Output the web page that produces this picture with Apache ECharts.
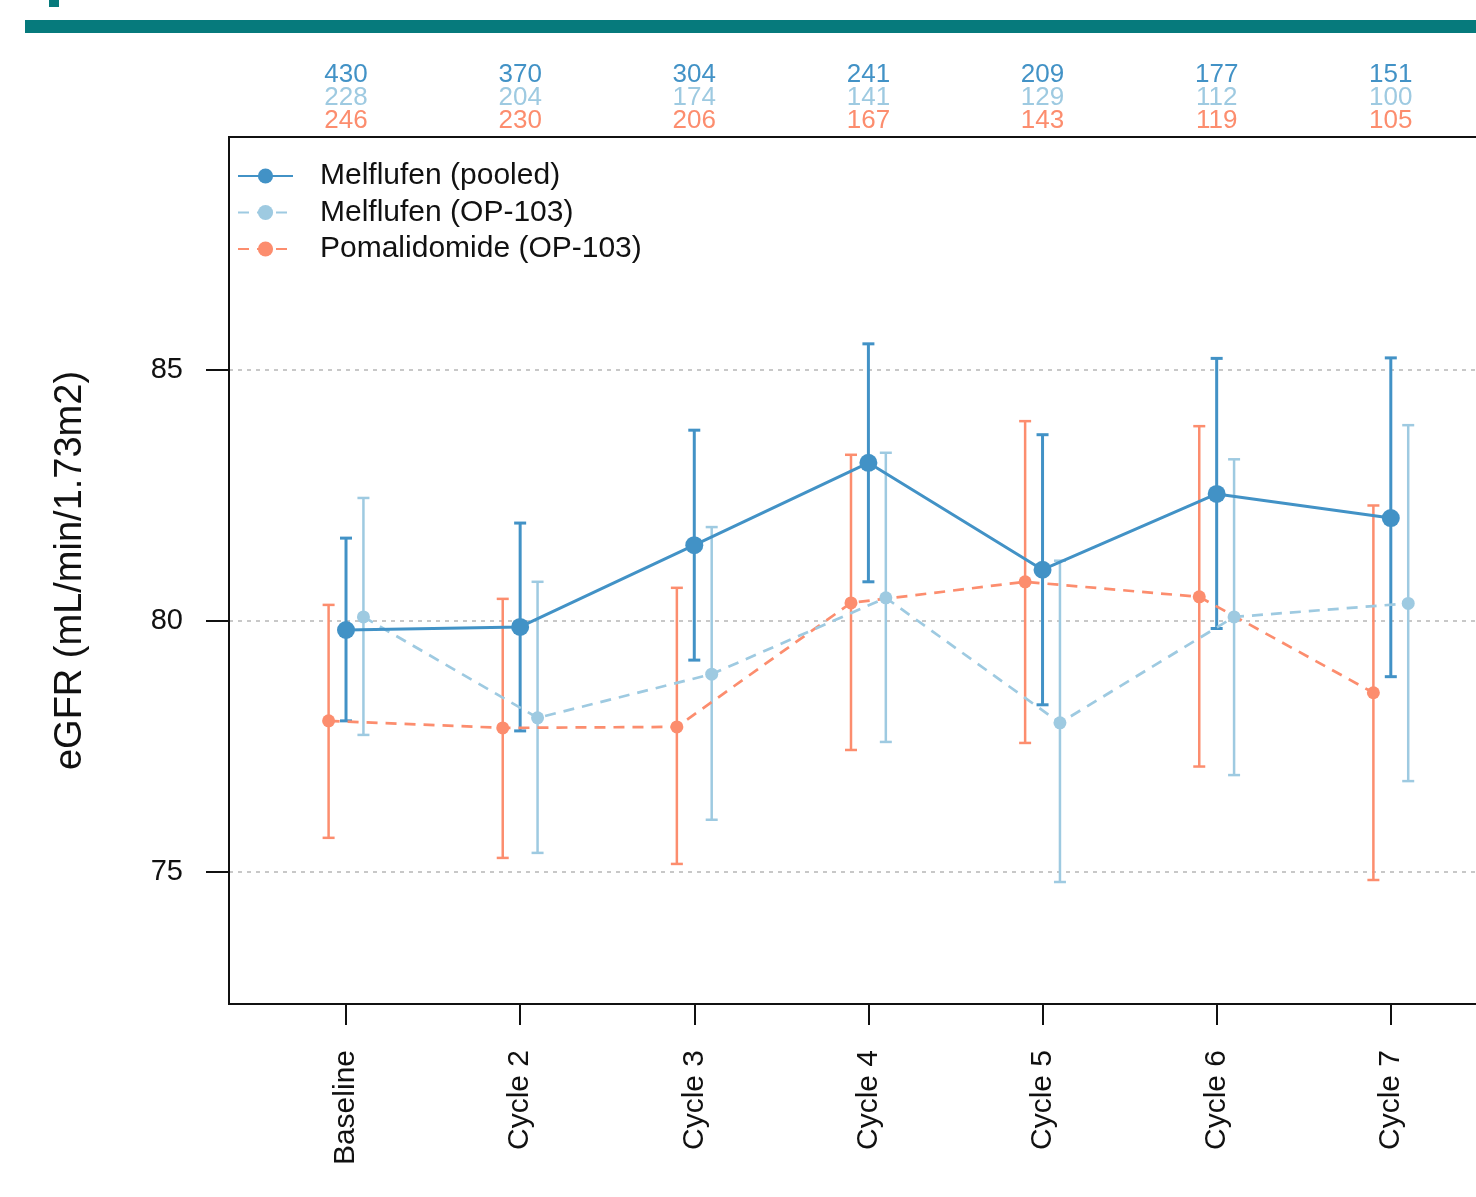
<!DOCTYPE html>
<html><head><meta charset="utf-8">
<script src="https://cdn.jsdelivr.net/npm/echarts@6/dist/echarts.min.js"></script>
<style>html,body{margin:0;padding:0;background:#fff}#c{width:1476px;height:1197px}</style>
</head><body><div id="c"></div>
<script>
const categories = ['Baseline','Cycle 2','Cycle 3','Cycle 4','Cycle 5','Cycle 6','Cycle 7'];
const pooledMean = [79.82, 79.88, 81.51, 83.15, 81.02, 82.53, 82.05];
const pooledLow  = [78.01, 77.81, 79.22, 80.78, 78.33, 79.85, 78.89];
const pooledHigh = [81.65, 81.95, 83.80, 85.52, 83.71, 85.23, 85.24];
const op103Mean  = [80.08, 78.07, 78.94, 80.46, 77.97, 80.08, 80.35];
const op103Low   = [77.73, 75.38, 76.04, 77.59, 74.80, 76.93, 76.81];
const op103High  = [82.45, 80.78, 81.87, 83.35, 81.20, 83.22, 83.90];
const pomMean    = [78.01, 77.87, 77.89, 80.36, 80.78, 80.48, 78.57];
const pomLow     = [75.68, 75.28, 75.16, 77.43, 77.57, 77.10, 74.84];
const pomHigh    = [80.32, 80.44, 80.66, 83.31, 83.98, 83.88, 82.30];
const nPooled = [430, 370, 304, 241, 209, 177, 151];
const nOp103  = [228, 204, 174, 141, 129, 112, 100];
const nPom    = [246, 230, 206, 167, 143, 119, 105];
const yTicks = [75, 80, 85];
const seriesNames = ['Melflufen (pooled)', 'Melflufen (OP-103)', 'Pomalidomide (OP-103)'];

const C_POOL = '#4292c6', C_OP = '#9ecae1', C_POM = '#fc8d6e';
const OFF = 0.1;
const xMin = -0.672, xMax = 7.5, yMin = 72.37, yMax = 89.64;
const idx = categories.map((_, i) => i);
const FONT = 'Liberation Sans, Arial, sans-serif';

function pts(mean, off) { return mean.map((v, i) => [i + off, v]); }
function bars(lo, hi, off) { return lo.map((v, i) => [i + off, v, hi[i]]); }
function errSeries(data, color, w) {
  return {
    type: 'custom', data: data, silent: true, z: 1,
    encode: { x: 0, y: [1, 2] },
    renderItem: function (params, api) {
      const x = api.value(0);
      const lo = api.coord([x, api.value(1)]);
      const hi = api.coord([x, api.value(2)]);
      const h = 6;
      const st = { stroke: color, lineWidth: w };
      return { type: 'group', children: [
        { type: 'line', shape: { x1: lo[0], y1: lo[1], x2: hi[0], y2: hi[1] }, style: st },
        { type: 'line', shape: { x1: lo[0] - h, y1: lo[1], x2: lo[0] + h, y2: lo[1] }, style: st },
        { type: 'line', shape: { x1: hi[0] - h, y1: hi[1], x2: hi[0] + h, y2: hi[1] }, style: st }
      ]};
    }
  };
}

const chart = echarts.init(document.getElementById('c'), null, { renderer: 'canvas' });
chart.setOption({
  animation: false,
  backgroundColor: '#fff',
  textStyle: { fontFamily: FONT },
  graphic: [
    { type: 'rect', left: 25, top: 20, shape: { width: 1460, height: 13 }, style: { fill: '#067a7c' } },
    { type: 'rect', left: 49, top: 0, shape: { width: 10, height: 7 }, style: { fill: '#067a7c' } }
  ],
  grid: { left: 229, top: 137, width: 1423, height: 867, outerBoundsMode: 'none', containLabel: false,
    show: true, borderColor: '#111', borderWidth: 2, backgroundColor: 'transparent' },
  legend: {
    orient: 'vertical', left: 232, top: 156, itemWidth: 55, itemHeight: 19, itemGap: 6.5,
    data: seriesNames,
    textStyle: { fontSize: 30, color: '#111', fontFamily: FONT, padding: [0, 0, 0, 22], lineHeight: 30 }
  },
  xAxis: [
    {
      type: 'value', min: xMin, max: xMax, position: 'bottom',
      axisLine: { show: true, onZero: false, lineStyle: { color: '#111', width: 2 } },
      axisTick: { show: true, customValues: idx, length: 21, lineStyle: { color: '#111', width: 2 } },
      splitLine: { show: false },
      axisLabel: { customValues: idx, rotate: 90, margin: 46, fontSize: 30, color: '#111', fontFamily: FONT,
        formatter: v => categories[Math.round(v)] }
    },
    {
      type: 'value', min: xMin, max: xMax, position: 'top',
      axisLine: { show: false, onZero: false }, axisTick: { show: false }, splitLine: { show: false },
      axisLabel: { customValues: idx, margin: 5, fontFamily: FONT,
        formatter: v => { const i = Math.round(v); return '{a|' + nPooled[i] + '}\n{b|' + nOp103[i] + '}\n{c|' + nPom[i] + '}'; },
        rich: {
          a: { color: C_POOL, fontSize: 26, lineHeight: 23, fontFamily: FONT },
          b: { color: C_OP, fontSize: 26, lineHeight: 23, fontFamily: FONT },
          c: { color: C_POM, fontSize: 26, lineHeight: 23, fontFamily: FONT }
        } }
    }
  ],
  yAxis: {
    type: 'value', min: yMin, max: yMax,
    name: 'eGFR (mL/min/1.73m2)', nameLocation: 'middle', nameRotate: 90, nameGap: 139,
    nameTextStyle: { fontSize: 38, color: '#111', fontFamily: FONT },
    axisLine: { show: true, onZero: false, lineStyle: { color: '#111', width: 2 } },
    axisTick: { show: true, customValues: yTicks, length: 23, lineStyle: { color: '#111', width: 2 } },
    splitLine: { show: false },
    axisLabel: { customValues: yTicks, margin: 46, fontSize: 29, color: '#111', fontFamily: FONT }
  },
  series: [
    errSeries(bars(pomLow, pomHigh, -OFF), C_POM, 2.5),
    errSeries(bars(op103Low, op103High, OFF), C_OP, 2.5),
    errSeries(bars(pooledLow, pooledHigh, 0), C_POOL, 3),
    {
      name: seriesNames[2], type: 'line', data: pts(pomMean, -OFF), z: 3,
      symbol: 'circle', symbolSize: 13, color: C_POM,
      itemStyle: { color: C_POM }, lineStyle: { color: C_POM, width: 2.7, type: [11, 8] }
    },
    {
      name: seriesNames[1], type: 'line', data: pts(op103Mean, OFF), z: 3,
      symbol: 'circle', symbolSize: 13, color: C_OP,
      itemStyle: { color: C_OP }, lineStyle: { color: C_OP, width: 2.7, type: [11, 8] }
    },
    {
      name: seriesNames[0], type: 'line', data: pts(pooledMean, 0), z: 4,
      symbol: 'circle', symbolSize: 18, color: C_POOL,
      itemStyle: { color: C_POOL }, lineStyle: { color: C_POOL, width: 3 },
      markLine: {
        silent: true, symbol: 'none', label: { show: false }, z: 0,
        lineStyle: { color: '#c8c8c8', type: [4, 5], width: 2 },
        data: yTicks.map(v => ({ yAxis: v }))
      }
    }
  ]
});
</script></body></html>
